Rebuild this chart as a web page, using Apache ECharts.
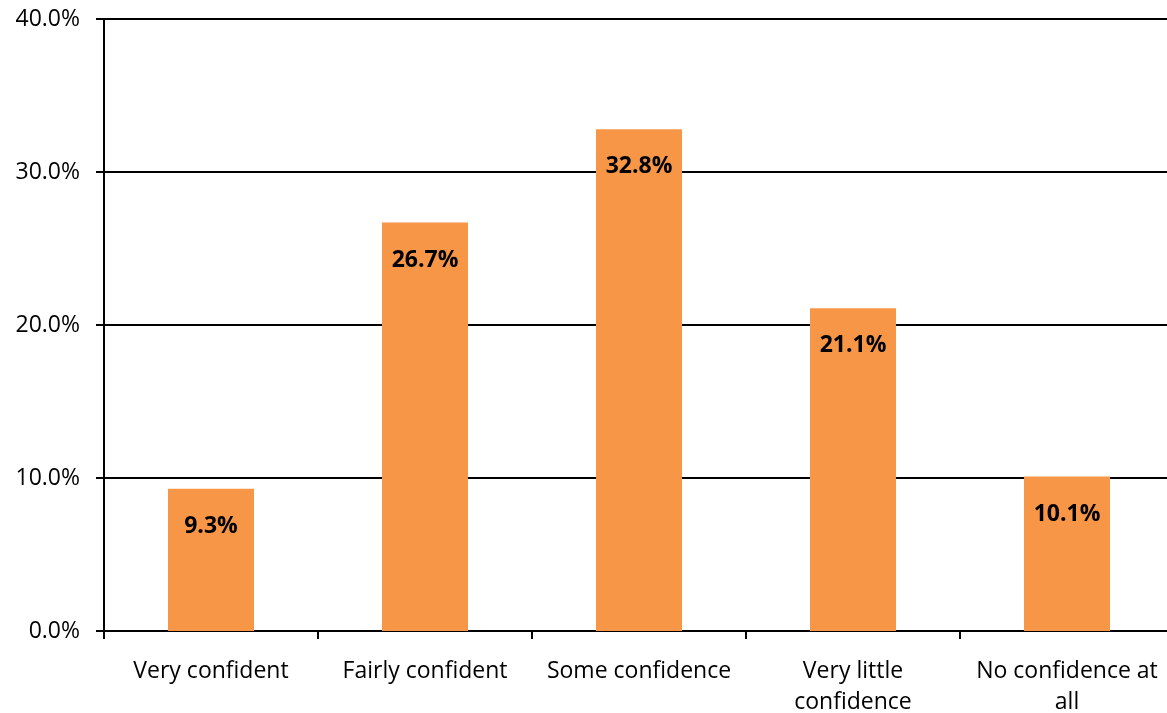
<!DOCTYPE html>
<html><head><meta charset="utf-8">
<script src="https://cdn.jsdelivr.net/npm/echarts@6/dist/echarts.min.js"></script>
<style>html,body{margin:0;padding:0;background:#fff}#c{width:1167px;height:713px}</style>
</head><body><div id="c"></div>
<script>
const categories = ["Very confident", "Fairly confident", "Some confidence", "Very little\nconfidence", "No confidence at\nall"];
const values = [9.3, 26.7, 32.8, 21.1, 10.1];
const yTicks = [0, 10, 20, 30, 40];

const chart = echarts.init(document.getElementById('c'));
const font = 'Open Sans, Noto Sans, sans-serif';
chart.setOption({
  animation: false,
  grid: { left: 104, top: 19, width: 1070, height: 612, containLabel: false, outerBoundsMode: 'none' },
  xAxis: {
    type: 'category', data: categories,
    axisLine: { lineStyle: { color: '#000', width: 2 } },
    axisTick: { show: true, length: 8, inside: false, lineStyle: { color: '#000', width: 2 } },
    axisLabel: { color: '#000', fontFamily: font, fontSize: 23, margin: 25, lineHeight: 31, interval: 0 }
  },
  yAxis: {
    type: 'value', min: yTicks[0], max: yTicks[yTicks.length - 1], interval: 10,
    axisLine: { show: true, lineStyle: { color: '#000', width: 2 } },
    axisTick: { show: true, length: 8, lineStyle: { color: '#000', width: 2 } },
    splitLine: { show: true, lineStyle: { color: '#000', width: 2 } },
    axisLabel: { color: '#000', fontFamily: font, fontSize: 23, margin: 24,
      formatter: v => v.toFixed(1) + '%' }
  },
  series: [{
    type: 'bar', data: values, barWidth: 86,
    itemStyle: { color: '#F79646' },
    label: { show: true, position: 'insideTop', distance: 26, color: '#000',
      fontFamily: font, fontWeight: 'bold', fontSize: 23,
      formatter: p => p.value.toFixed(1) + '%' }
  }]
});
</script></body></html>
